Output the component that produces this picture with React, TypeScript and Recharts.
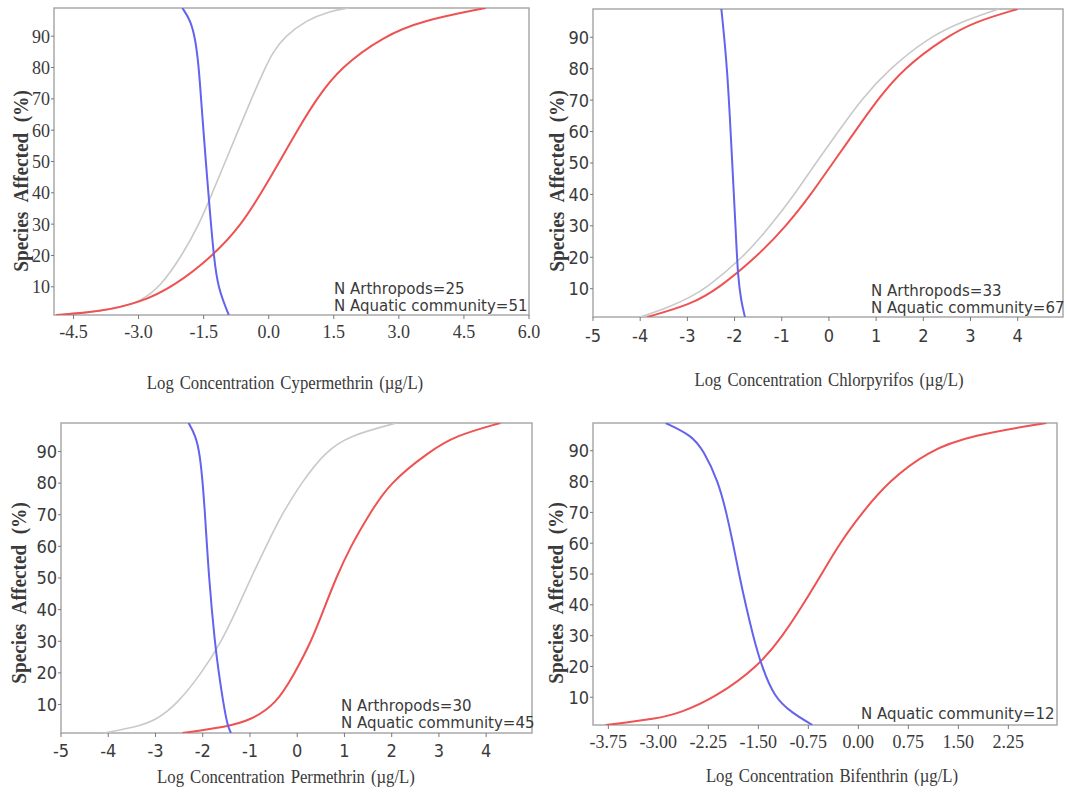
import { LineChart, Line, XAxis, YAxis, ReferenceArea } from 'recharts'

// curve colours
const BLUE = '#6363ee'
const RED = '#ee5252'
const GRAY = '#c9c9c9'
const FRAME = '#a9a9a9'
const INK = '#3a3a3a'

const SERIF = "'Liberation Serif', 'Times New Roman', serif"
const NARROW = "'Liberation Sans Narrow', 'DejaVu Sans Condensed', 'Arial Narrow', sans-serif"
const SANS = "'DejaVu Sans', Verdana, sans-serif"

const yTicks = [10, 20, 30, 40, 50, 60, 70, 80, 90]

// Cypermethrin
const cyperTicks = [-4.5, -3.0, -1.5, 0.0, 1.5, 3.0, 4.5, 6.0]
const cyperBlueX = [-1.99, -1.8, -1.69, -1.61, -1.55, -1.45, -1.38, -1.27, -1.17, -0.92]
const cyperBlueY = [99, 95, 89, 80, 68, 50, 38, 20, 9.5, 1]
const cyperGrayX = [-4.9, -4.0, -3.4, -2.95, -2.5, -2.0, -1.6, -1.3, -1.0, -0.7, -0.4, -0.08, 0.1, 0.38, 0.85, 1.4, 1.85]
const cyperGrayY = [1, 2, 3.5, 5.5, 10, 20, 30, 40, 50, 60, 70, 80, 85, 90, 95, 98, 99]
const cyperRedX = [-4.9, -3.9, -2.95, -2.2, -1.27, -0.62, -0.17, 0.25, 0.66, 1.1, 1.65, 2.65, 3.55, 5.0]
const cyperRedY = [1, 2, 5, 10, 20, 30, 40, 50, 60, 70, 80, 90, 95, 99]

// Chlorpyrifos
const chlorTicks = [-5, -4, -3, -2, -1, 0, 1, 2, 3, 4]
const chlorBlueX = [-2.28, -2.15, -2.05, -1.97, -1.93, -1.86, -1.78]
const chlorBlueY = [99, 80, 50, 27, 14, 6, 1]
const chlorGrayX = [-4.0, -3.4, -2.92, -2.62, -1.81, -1.24, -0.73, -0.28, 0.2, 0.67, 1.28, 2.12, 2.82, 3.6]
const chlorGrayY = [1, 4, 7.5, 10, 20, 30, 40, 50, 60, 70, 80, 90, 95, 99]
const chlorRedX = [-3.85, -2.92, -2.35, -1.54, -0.9, -0.38, 0.08, 0.55, 1.02, 1.57, 2.47, 3.1, 4.0]
const chlorRedY = [1, 5, 10, 20, 30, 40, 50, 60, 70, 80, 90, 95, 99]

// Permethrin
const permTicks = [-5, -4, -3, -2, -1, 0, 1, 2, 3, 4]
const permBlueX = [-2.3, -2.15, -2.06, -2.0, -1.95, -1.87, -1.74, -1.66, -1.56, -1.47, -1.4]
const permBlueY = [99, 95, 89, 80, 70, 50, 29, 20, 10, 3, 1]
const permGrayX = [-4.1, -3.38, -3.0, -2.55, -2.02, -1.6, -1.28, -0.98, -0.66, -0.33, 0.08, 0.6, 1.1, 2.1]
const permGrayY = [1, 3, 5, 10, 20, 30, 40, 50, 60, 70, 80, 90, 95, 99]
const permRedX = [-2.43, -1.48, -1.0, -0.45, -0.05, 0.3, 0.56, 0.82, 1.13, 1.52, 1.95, 2.8, 3.35, 4.3]
const permRedY = [1, 3, 5, 10, 20, 30, 40, 50, 60, 70, 80, 90, 95, 99]

// Bifenthrin
const bifTicks = [-3.75, -3.0, -2.25, -1.5, -0.75, 0.0, 0.75, 1.5, 2.25]
const bifBlueX = [-2.89, -2.5, -2.32, -2.1, -1.98, -1.88, -1.79, -1.69, -1.58, -1.45, -1.26, -1.0, -0.69]
const bifBlueY = [99, 95, 90, 80, 70, 60, 50, 40, 30, 20, 10, 5, 1]
const bifRedX = [-3.79, -3.02, -2.66, -2.14, -1.5, -1.13, -0.83, -0.55, -0.28, 0.06, 0.45, 1.05, 1.7, 2.82]
const bifRedY = [1, 3, 5, 10, 20, 30, 40, 50, 60, 70, 80, 90, 95, 99]

type Pt = { x: number; y: number }
const pts = (xs: number[], ys: number[]): Pt[] => xs.map((x, i) => ({ x, y: ys[i] }))

type Box = { left: number; top: number; w: number; h: number }
type Series = { data: Pt[]; color: string; width: number }

const YW = 40
const XH = 36
const MT = 4
const MR = 24

function Panel(props: {
  box: Box
  xDomain: [number, number]
  xTicks: number[]
  digits: number
  xFont: string
  yFont: string
  xGap: number
  series: Series[]
}) {
  const { box, xDomain, xTicks, digits, xFont, yFont, xGap, series } = props
  return (
    <div style={{ position: 'absolute', left: box.left - YW, top: box.top - MT }}>
      <LineChart
        width={YW + box.w + MR}
        height={MT + box.h + XH}
        margin={{ top: MT, right: MR, left: 0, bottom: 0 }}
      >
        <XAxis
          dataKey="x"
          type="number"
          domain={xDomain}
          ticks={xTicks}
          allowDataOverflow
          interval={0}
          height={XH}
          axisLine={false}
          tickSize={4}
          tickMargin={xGap}
          tickLine={{ stroke: '#777' }}
          tickFormatter={(v: number) => v.toFixed(digits)}
          tick={{ fill: INK, fontSize: 18, fontFamily: xFont }}
        />
        <YAxis
          type="number"
          domain={[1, 99]}
          ticks={yTicks}
          allowDataOverflow
          width={YW}
          axisLine={false}
          tickSize={3}
          tickMargin={1}
          tickLine={{ stroke: '#777' }}
          tick={{ fill: INK, fontSize: 18, fontFamily: yFont }}
        />
        <ReferenceArea x1={xDomain[0]} x2={xDomain[1]} y1={1} y2={99} fill="none" stroke={FRAME} strokeWidth={1.5} />
        {series.map((s, i) => (
          <Line
            key={i}
            data={s.data}
            dataKey="y"
            type="basis"
            stroke={s.color}
            strokeWidth={s.width}
            dot={false}
            isAnimationActive={false}
          />
        ))}
      </LineChart>
    </div>
  )
}

function XTitle({ x, y, text }: { x: number; y: number; text: string }) {
  return (
    <div
      style={{
        position: 'absolute', left: x, top: y, transform: 'translate(-50%, -50%) scaleX(0.88)',
        whiteSpace: 'nowrap', fontFamily: SERIF, fontSize: 19, color: INK, wordSpacing: 2,
      }}
    >
      {text}
    </div>
  )
}

function YTitle({ x, y }: { x: number; y: number }) {
  return (
    <div
      style={{
        position: 'absolute', left: x, top: y, transform: 'translate(-50%, -50%) rotate(-90deg) scaleX(0.92)',
        whiteSpace: 'nowrap', fontFamily: SERIF, fontSize: 21, fontWeight: 'bold', color: INK, wordSpacing: 6,
      }}
    >
      Species Affected (%)
    </div>
  )
}

function Note({ x, y, lines }: { x: number; y: number; lines: string[] }) {
  return (
    <div style={{ position: 'absolute', left: x, top: y, fontFamily: SANS, fontSize: 15, lineHeight: '17px', color: INK, whiteSpace: 'nowrap' }}>
      {lines.map((l) => (
        <div key={l}>{l}</div>
      ))}
    </div>
  )
}

export default function App() {
  return (
    <div style={{ position: 'absolute', left: 0, top: 0, width: 1067, height: 792, background: '#fff', overflow: 'hidden' }}>
      <Panel
        box={{ left: 54, top: 8, w: 475, h: 307 }}
        xDomain={[-4.95, 6.0]}
        xTicks={cyperTicks}
        digits={1}
        xFont={SERIF}
        yFont={SERIF}
        xGap={6}
        series={[
          { data: pts(cyperGrayX, cyperGrayY), color: GRAY, width: 1.6 },
          { data: pts(cyperRedX, cyperRedY), color: RED, width: 2 },
          { data: pts(cyperBlueX, cyperBlueY), color: BLUE, width: 2 },
        ]}
      />
      <Panel
        box={{ left: 593, top: 9, w: 470, h: 308 }}
        xDomain={[-5, 4.96]}
        xTicks={chlorTicks}
        digits={0}
        xFont={NARROW}
        yFont={NARROW}
        xGap={8}
        series={[
          { data: pts(chlorGrayX, chlorGrayY), color: GRAY, width: 1.6 },
          { data: pts(chlorRedX, chlorRedY), color: RED, width: 2 },
          { data: pts(chlorBlueX, chlorBlueY), color: BLUE, width: 2 },
        ]}
      />
      <Panel
        box={{ left: 61, top: 423, w: 471, h: 310 }}
        xDomain={[-5, 4.97]}
        xTicks={permTicks}
        digits={0}
        xFont={NARROW}
        yFont={NARROW}
        xGap={7}
        series={[
          { data: pts(permGrayX, permGrayY), color: GRAY, width: 1.6 },
          { data: pts(permRedX, permRedY), color: RED, width: 2 },
          { data: pts(permBlueX, permBlueY), color: BLUE, width: 2 },
        ]}
      />
      <Panel
        box={{ left: 593, top: 423, w: 464, h: 302 }}
        xDomain={[-3.98, 2.98]}
        xTicks={bifTicks}
        digits={2}
        xFont={SERIF}
        yFont={NARROW}
        xGap={6}
        series={[
          { data: pts(bifRedX, bifRedY), color: RED, width: 2 },
          { data: pts(bifBlueX, bifBlueY), color: BLUE, width: 2 },
        ]}
      />

      <XTitle x={285} y={383} text="Log Concentration Cypermethrin (µg/L)" />
      <XTitle x={829} y={380} text="Log Concentration Chlorpyrifos (µg/L)" />
      <XTitle x={286} y={777} text="Log Concentration Permethrin (µg/L)" />
      <XTitle x={832} y={776} text="Log Concentration Bifenthrin (µg/L)" />

      <YTitle x={21} y={181} />
      <YTitle x={557} y={181} />
      <YTitle x={19} y={593} />
      <YTitle x={556} y={593} />

      <Note x={334} y={281} lines={['N Arthropods=25', 'N Aquatic community=51']} />
      <Note x={871} y={283} lines={['N Arthropods=33', 'N Aquatic community=67']} />
      <Note x={341} y={698} lines={['N Arthropods=30', 'N Aquatic community=45']} />
      <Note x={861} y={706} lines={['N Aquatic community=12']} />
    </div>
  )
}
